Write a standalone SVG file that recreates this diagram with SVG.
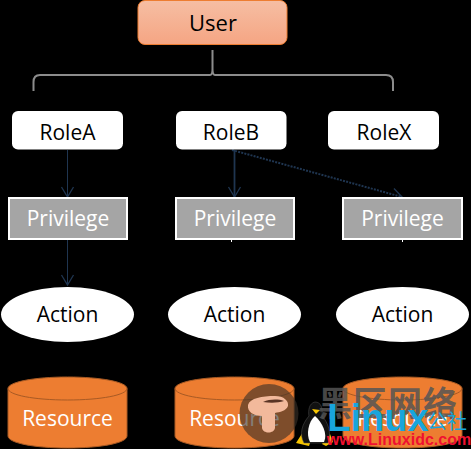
<svg xmlns="http://www.w3.org/2000/svg" width="471" height="449" viewBox="0 0 471 449">
<defs>
<linearGradient id="ug" x1="0" y1="0" x2="0" y2="1"><stop offset="0" stop-color="#f6bea3"/><stop offset="1" stop-color="#f5a583"/></linearGradient>
<marker id="ah" markerUnits="userSpaceOnUse" markerWidth="18" markerHeight="18" refX="11" refY="9" orient="auto"><path d="M1 3L11 9L1 15" fill="none" stroke="#1f3550" stroke-width="1.300"/></marker>
</defs>
<style>
text{font-family:"Open Sans","Noto Sans","Liberation Sans",sans-serif;font-size:21px;text-anchor:middle}
.role{fill:#fff}
.t{fill:#000}
.w{fill:#fff}
.priv{fill:#a5a5a5;stroke:#fff;stroke-width:2}
.cyl{fill:#ed7d31;stroke:#a85a24;stroke-width:1}
.c{fill:none;stroke:#1f3550;stroke-width:1}
</style>
<rect width="471" height="449" fill="#000"/>
<g id="connectors">
<path d="M212.500 50V69Q212.500 75 210 75H40Q33.500 75 33.500 82V91M212.500 69Q212.500 75 215 75H386Q393 75 393 82V91" fill="none" stroke="#8c8c8c" stroke-width="2"/>
<path class="c" d="M67.500 150V197" marker-end="url(#ah)"/>
<path class="c" d="M234.500 150V197" style="stroke-width:1.800" marker-end="url(#ah)"/>
<path class="c" d="M232 150L402 197" style="stroke-width:2;stroke-dasharray:2 1.200" marker-end="url(#ah)"/>
<path class="c" d="M67.500 240V285" marker-end="url(#ah)"/>
<path d="M231.500 239V242M402.500 239V242" stroke="#fff" stroke-width="1"/>
</g>
<g id="user"><rect x="138" y="0.500" width="149" height="44" rx="7" fill="url(#ug)" stroke="#ed7d31" stroke-width="1"/><text class="t" x="213" y="31" style="font-size:22px">User</text></g>
<g id="roleA"><rect class="role" x="12" y="111" width="111" height="38.500" rx="6"/><text class="t" x="67.500" y="140">RoleA</text></g>
<g id="roleB"><rect class="role" x="176" y="111" width="110.500" height="38.500" rx="6"/><text class="t" x="231" y="140">RoleB</text></g>
<g id="roleX"><rect class="role" x="328" y="111" width="111" height="38.500" rx="6"/><text class="t" x="384" y="140">RoleX</text></g>
<g id="privilegeA"><rect class="priv" x="9" y="198" width="118" height="41"/><text class="w" x="68" y="226">Privilege</text></g>
<g id="privilegeB"><rect class="priv" x="176" y="198" width="118" height="41"/><text class="w" x="235" y="226">Privilege</text></g>
<g id="privilegeX"><rect class="priv" x="343" y="198" width="119" height="41"/><text class="w" x="402.500" y="226">Privilege</text></g>
<g id="actionA"><ellipse cx="67.500" cy="314.500" rx="66.500" ry="27.500" fill="#fff"/><text class="t" x="67.500" y="322">Action</text></g>
<g id="actionB"><ellipse cx="234.500" cy="314.500" rx="66.500" ry="27.500" fill="#fff"/><text class="t" x="234.500" y="322">Action</text></g>
<g id="actionX"><ellipse cx="402.500" cy="314.500" rx="66.500" ry="27.500" fill="#fff"/><text class="t" x="402.500" y="322">Action</text></g>
<g id="resourceA"><path class="cyl" d="M8 388.500C8 382 34 377 67.500 377S127 382 127 388.500V436C127 443 101 448 67.500 448S8 443 8 436Z"/><path d="M8 388.500C8 395 34 400 67.500 400S127 395 127 388.500" fill="none" stroke="#a85a24"/><text class="w" x="67.500" y="426">Resource</text></g>
<g id="resourceB"><path class="cyl" d="M175 388.500C175 382 201 377 234.500 377S294 382 294 388.500V436C294 443 268 448 234.500 448S175 443 175 436Z"/><path d="M175 388.500C175 395 201 400 234.500 400S294 395 294 388.500" fill="none" stroke="#a85a24"/><text class="w" x="234.500" y="426">Resource</text></g>
<g id="resourceX"><path class="cyl" d="M343 388.500C343 382 369 377 402.500 377S462 382 462 388.500V436C462 443 436 448 402.500 448S343 443 343 436Z"/><path d="M343 388.500C343 395 369 400 402.500 400S462 395 462 388.500" fill="none" stroke="#a85a24"/><text class="w" x="402.500" y="426">Resource</text></g>
<g id="watermark">
<circle cx="269" cy="413.500" r="29.500" fill="#3a3029" fill-opacity="0.620"/>
<path d="M248 405C250 398 262 396 275 396C284 396 289 401 288 406C286 411 280 412 275 413L275 428C274 434 263 434 262 428L262 416C254 416 247 412 248 405Z" fill="#f2b99b"/>
<path d="M263 402C270 399 278 399 284 401C278 403 270 403 263 402Z" fill="#5a3424"/>
<path d="M296 443L303 432L311 440L309 446Z M322 444L330 434L333 442L326 446Z" fill="#f5c400"/>
<path d="M315 402C309 403 308 411 309 416C302 424 299 434 304 443H328C332 434 328 422 322 416C323 408 321 402 315 402Z" fill="#111" stroke="#555" stroke-width="0.500"/>
<path d="M315 416C308 422 306 435 310 442H324C328 434 322 422 315 416Z" fill="#fff"/>
<path d="M312 409L320 410L316 414Z" fill="#f5c400"/>
<text x="388" y="416" style="font-family:'Noto Sans CJK SC',sans-serif;font-size:34px;font-weight:700;letter-spacing:1px;fill:#555;fill-opacity:0.850">黑区网络</text>
<text x="378" y="431" style="font-family:'Liberation Sans',sans-serif;font-size:38px;font-weight:700;fill:#18a5dc">Linux</text>
<text x="447" y="429" style="font-family:'Noto Sans CJK SC',sans-serif;font-size:20px;fill:#18a5dc">公社</text>
<text x="399" y="445" style="font-family:'Liberation Sans',sans-serif;font-size:16px;font-weight:700;fill:#f01030">www.Linuxidc.com</text>
</g>
</svg>
